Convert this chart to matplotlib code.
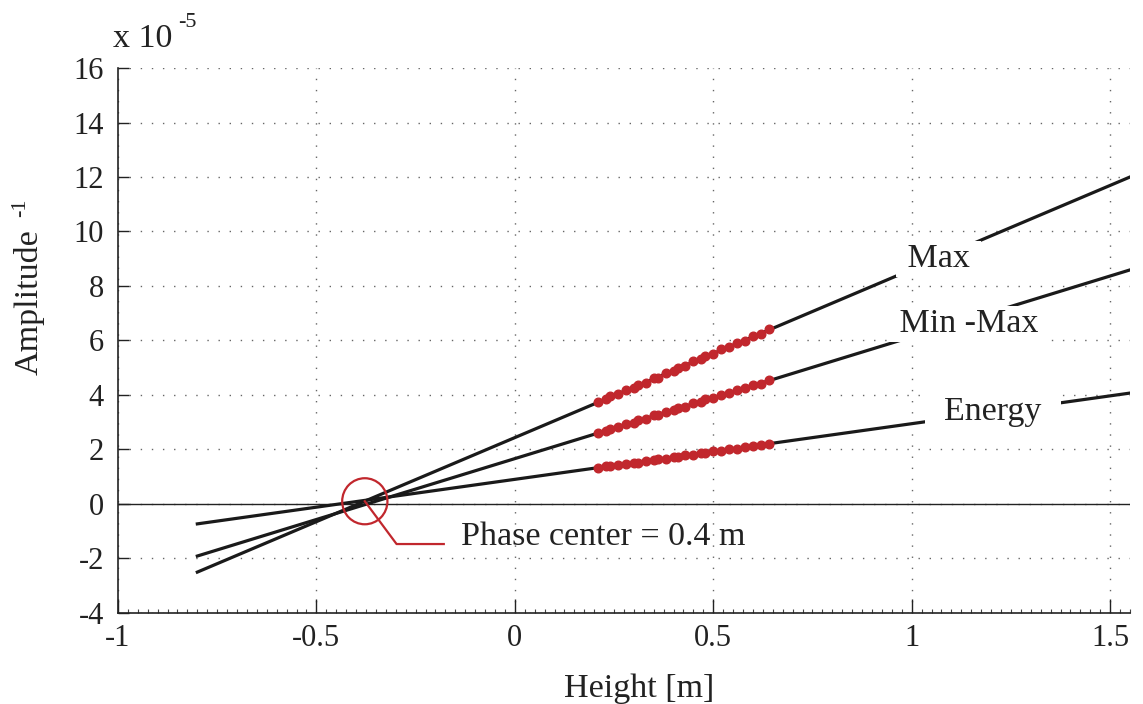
import numpy as np
import matplotlib
matplotlib.use('Agg')
import matplotlib.pyplot as plt
from matplotlib.patches import Ellipse
from matplotlib.ticker import MultipleLocator

plt.rcParams['font.family'] = ['Liberation Serif', 'DejaVu Serif']
plt.rcParams['axes.unicode_minus'] = False

# Fitted lines (amplitude^-1 in units of 1e-5), end points
fit_x = [-0.8, 1.55]
max_fit = [-2.5, 12.0]
minmax_fit = [-1.91, 8.59]
energy_fit = [-0.73, 4.07]

# Measured points
meas_x = [0.21, 0.23, 0.24, 0.26, 0.28, 0.30, 0.31, 0.33, 0.35, 0.36, 0.38, 0.40, 0.41,
          0.43, 0.45, 0.47, 0.48, 0.50, 0.52, 0.54, 0.56, 0.58, 0.60, 0.62, 0.64]
max_meas = [3.75, 3.84, 3.95, 4.02, 4.19, 4.27, 4.38, 4.45, 4.63, 4.64, 4.80, 4.88, 5.00,
            5.07, 5.24, 5.31, 5.43, 5.50, 5.68, 5.75, 5.92, 5.99, 6.16, 6.24, 6.42]
minmax_meas = [2.62, 2.69, 2.76, 2.81, 2.94, 2.99, 3.08, 3.12, 3.25, 3.26, 3.39, 3.44, 3.53,
               3.57, 3.70, 3.75, 3.84, 3.88, 4.01, 4.06, 4.19, 4.24, 4.37, 4.42, 4.55]
energy_meas = [1.32, 1.38, 1.38, 1.44, 1.46, 1.52, 1.52, 1.58, 1.60, 1.65, 1.66, 1.72, 1.72,
               1.78, 1.81, 1.87, 1.87, 1.93, 1.95, 2.01, 2.03, 2.09, 2.11, 2.17, 2.21]

red = '#c1272d'
ink = '#222222'

fig = plt.figure(figsize=(11.43, 7.04), dpi=100)
ax = fig.add_axes([0.1032, 0.1293, 0.8854, 0.7741])

for fit in (max_fit, minmax_fit, energy_fit):
    ax.plot(fit_x, fit, color='#1a1a1a', lw=2.3, zorder=3)
for meas in (max_meas, minmax_meas, energy_meas):
    ax.plot(meas_x, meas, 'o', color=red, ms=6.2, mec=red, zorder=4)

ax.axhline(0, color=ink, lw=1.0, zorder=2)

# Line labels on white boxes
box = dict(facecolor='white', edgecolor='none', pad=2)
ax.text(1.068, 8.70, ' Max ', fontsize=24.5, ha='center', va='baseline', bbox=box, zorder=5, color=ink)
ax.text(1.145, 6.31, ' Min -Max ', fontsize=24.5, ha='center', va='baseline', bbox=box, zorder=5, color=ink)
ax.text(1.205, 3.08, '  Energy  ', fontsize=24.5, ha='center', va='baseline', bbox=box, zorder=5, color=ink)

# Phase centre marker
ax.add_patch(Ellipse((-0.378, 0.1), 0.114, 1.69, fill=False, edgecolor=red, lw=1.6, zorder=6))
ax.plot([-0.378, -0.298, -0.179], [0.1, -1.47, -1.47], color=red, lw=1.6, zorder=6)
ax.text(-0.136, -1.5, 'Phase center = 0.4 m', fontsize=24.5, ha='left', va='baseline', zorder=6, color=ink)

ax.set_xlim(-1, 1.55)
ax.set_ylim(-4, 16)
ax.set_xticks([-1, -0.5, 0, 0.5, 1, 1.5])
ax.set_xticklabels(['-1', '-0.5', '0', '0.5', '1', '1.5'])
ax.set_yticks(np.arange(-4, 17, 2))
ax.xaxis.set_minor_locator(MultipleLocator(0.025))

ax.spines['top'].set_visible(False)
ax.spines['right'].set_visible(False)
for s in ('left', 'bottom'):
    ax.spines[s].set_linewidth(1.2)
    ax.spines[s].set_color(ink)

ax.tick_params(axis='both', which='major', direction='in', labelsize=22, colors=ink, width=1.0)
ax.tick_params(axis='y', which='major', length=8, pad=10)
ax.tick_params(axis='x', which='major', length=10, pad=8)
ax.tick_params(axis='x', which='minor', direction='in', length=3, width=0.8, color='#444444')

ax.grid(True, which='major', color='#666666', linestyle=(0, (1, 7)), lw=1.0)

# Axis titles
fig.text(639 / 1143, 1 - 697 / 704, 'Height [m]', fontsize=24.5, ha='center', va='baseline', color=ink)
fig.text(38 / 1143, 1 - 302 / 704, 'Amplitude', fontsize=24.5, rotation=90,
         ha='center', va='baseline', rotation_mode='anchor', color=ink)
fig.text(25 / 1143, 1 - 208 / 704, '-1', fontsize=16, rotation=90,
         ha='center', va='baseline', rotation_mode='anchor', color=ink)

# Scale factor
fig.text(113 / 1143, 1 - 47 / 704, 'x 10', fontsize=24.5, ha='left', va='baseline', color=ink)
fig.text(178 / 1143, 1 - 27 / 704, '-5', fontsize=16, ha='left', va='baseline', color=ink)

fig.savefig('out.png', dpi=100)
